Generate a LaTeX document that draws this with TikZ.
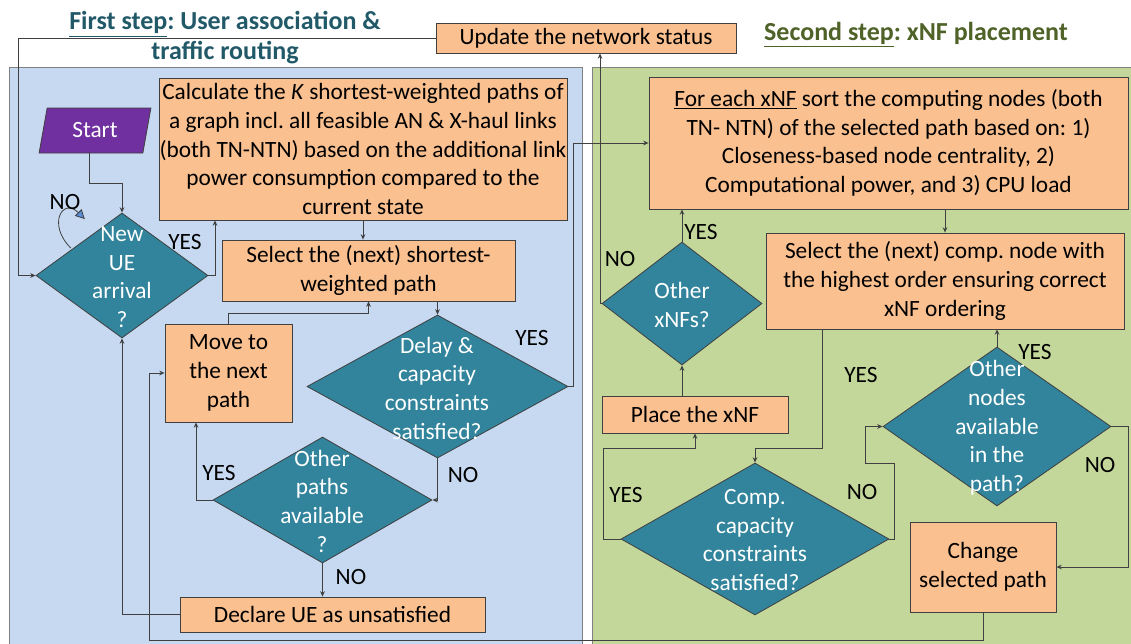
\documentclass[tikz,border=0pt]{standalone}
\usepackage{fontspec}
\setmainfont{Carlito}
\usetikzlibrary{arrows.meta,shapes.geometric,calc}
\definecolor{bluebg}{HTML}{C6D9F1}
\definecolor{greenbg}{HTML}{C4D79B}
\definecolor{orangebox}{HTML}{FAC090}
\definecolor{tealdia}{HTML}{31849B}
\definecolor{purplest}{HTML}{7030A0}
\definecolor{titleone}{HTML}{215968}
\definecolor{titletwo}{HTML}{4F6228}
\definecolor{linegray}{HTML}{404040}
\definecolor{loopblue}{HTML}{5B8CD6}
\newcommand\fs{\fontsize{17.5}{21.5}\selectfont}
\newcommand\tfs{\fontsize{19.5}{22.5}\selectfont\bfseries}
\frenchspacing
\begin{document}
\begin{tikzpicture}[x=0.75pt,y=-0.75pt,
  sz/.style 2 args={minimum width=#1*0.75pt, minimum height=#2*0.75pt},
  ob/.style={draw=linegray, fill=orangebox, line width=0.6pt, inner sep=0pt, align=center, font=\fs},
  dia/.style={diamond, draw=linegray, fill=tealdia, inner sep=0pt, line width=0.6pt},
  dtext/.style={text=white, align=center, font=\fs, inner sep=0pt},
  lbl/.style={font=\fs, text=black, inner sep=0pt},
  conn/.style={draw=linegray, line width=0.7pt, -{Stealth[length=4pt,width=3.5pt]}},
  region/.style={draw=gray, line width=0.7pt}]
\useasboundingbox (0,0) rectangle (1131,643);
% regions
\filldraw[region, fill=bluebg] (9,67) rectangle (582,660);
\filldraw[region, fill=greenbg] (592,67) rectangle (1145,660);
% titles
\node[font=\tfs, text=titleone, align=center] (t1) at (225,38) {\underline{First step}: User association \&\\ traffic routing};
\node[font=\tfs, text=titletwo] (t2) at (916,35) {\underline{Second step}: xNF placement};
% helper coordinates
\coordinate (cL) at (18,0);
\coordinate (cY) at (215,0);
\coordinate (cR) at (573,0);
\coordinate (cM) at (196,0);
\coordinate (cMS) at (0,313);
\coordinate (cB) at (0,640);
\coordinate (cBL) at (149,640);
\coordinate (cS) at (822,448);
\coordinate (cRR) at (1128,0);
\coordinate (c6a) at (894,463);
\coordinate (c6b) at (865,463);
\coordinate (c7) at (603,448);
\coordinate (c8) at (600,0);
% boxes
\node[ob, sz={300}{30}] (upd) at (586,38) {Update the network status};
\node[ob, sz={408}{142}] (calc) at (363,149) {Calculate the \textit{K} shortest-weighted paths of\\ a graph incl. all feasible AN \& X-haul links\\ (both TN-NTN) based on the additional link\\ power consumption compared to the\\ current state};
\node[ob, sz={293}{61}] (sel) at (368.5,270.5) {Select the (next) shortest-\\weighted path};
\node[ob, sz={127}{98}] (move) at (228.5,373) {Move to\\the next\\path};
\node[ob, sz={305}{35}] (decl) at (332.5,614.5) {Declare UE as unsatisfied};
\node[ob, sz={479}{132}] (xnf) at (888.5,143) {\underline{For each xNF} sort the computing nodes (both\\ TN- NTN) of the selected path based on: 1)\\ Closeness-based node centrality, 2)\\ Computational power, and 3) CPU load};
\node[ob, sz={358}{96}] (selc) at (945,281) {Select the (next) comp. node with\\ the highest order ensuring correct\\ xNF ordering};
\node[ob, sz={186}{37}] (place) at (695,414.5) {Place the xNF};
\node[ob, sz={146}{90}] (chg) at (983,567) {Change\\selected path};
% start
\node[trapezium, trapezium left angle=76, trapezium right angle=104, trapezium stretches=true,
  minimum width=84pt, minimum height=33.75pt, inner sep=0pt, draw=linegray, line width=0.6pt,
  fill=purplest, text=white, font=\fs] (start) at (95,130.5) {Start};
% diamonds
\node[dia, sz={172}{125}] (d1) at (122,275.5) {};
\node[dtext] (d1t) at (122,277) {New\\UE\\arrival\\?};
\node[dia, sz={261}{143}] (d2) at (437.5,386.5) {};
\node[dtext] (d2t) at (437,388) {Delay \&\\capacity\\constraints\\satisfied?};
\node[dia, sz={219}{126}] (d3) at (322.5,500) {};
\node[dtext] (d3t) at (322,501) {Other\\paths\\available\\?};
\node[dia, sz={160}{123}] (d4) at (682,303.5) {};
\node[dtext] (d4t) at (682,305) {Other\\xNFs?};
\node[dia, sz={228}{159}] (d5) at (997,426.5) {};
\node[dtext] (d5t) at (997,428) {Other\\nodes\\available\\in the\\path?};
\node[dia, sz={268}{152}] (d6) at (755,539) {};
\node[dtext] (d6t) at (755,540) {Comp.\\capacity\\constraints\\satisfied?};
% connectors
\draw[conn] ([xshift=-4.5pt]start.south) -- ++(0,30) -| (d1.north);
\draw[draw=linegray, line width=0.6pt, -{Triangle[length=7pt,width=7pt,fill=loopblue]}]
  ([shift={(-8,4)}]d1.north west) .. controls +(-24,-24) and +(-22,-22) .. ([shift={(6,-25)}]d1.north west);
\draw[conn] (upd.west) -- (upd.west -| cL) -- (d1.west -| cL) -- (d1.west);
\draw[conn] (d1.east) -- (d1.east -| cY) -- (calc.south -| cY);
\draw[conn] (calc.south) -- (calc.south |- sel.north);
\draw[conn] (d2.north |- sel.south) -- (d2.north);
\draw[conn] (d2.east) -- (d2.east -| cR) -- (xnf.west -| cR) -- (xnf.west);
\draw[conn] (d2.south) -- (d2.south |- d3.east) -- (d3.east);
\draw[conn] (d3.west) -- (d3.west -| cM) -- (move.south -| cM);
\draw[conn] (d3.south) -- (d3.south |- decl.north);
\draw[conn] (decl.west) -| (d1.south);
\draw[conn] (move.north) -- (move.north |- cMS) -| (sel.south);
\draw[conn] (chg.south) -- (chg.south |- cB) -- (cBL) -- (move.west -| cBL) -- (move.west);
\draw[conn] (selc.north |- xnf.south) -- (selc.north);
\draw[conn] (selc.south -| cS) -- (cS) -- (cS -| d6.north) -- (d6.north);
\draw[conn] (d5.north) -- (d5.north |- selc.south);
\draw[conn] (d5.east) -- (d5.east -| cRR) -- (chg.east -| cRR) -- (chg.east);
\draw[conn] (d6.east) -- (d6.east -| c6a) -- (c6a) -- (c6b) -- (c6b |- d5.west) -- (d5.west);
\draw[conn] (d6.west) -- (d6.west -| c7) -- (c7) -- (c7 -| place.south) -- (place.south);
\draw[conn] (d4.south |- place.north) -- (d4.south);
\draw[conn] (d4.north) -- (d4.north |- xnf.south);
\draw[conn] (d4.west) -- (d4.west -| c8) -- (c8 |- upd.south);
% labels
\node[lbl] (l1) at (65,202) {NO};
\node[lbl] (l2) at (185,242) {YES};
\node[lbl] (l3) at (532,338) {YES};
\node[lbl] (l4) at (463,475) {NO};
\node[lbl] (l5) at (219,473) {YES};
\node[lbl] (l6) at (351,577) {NO};
\node[lbl] (l7) at (701,232) {YES};
\node[lbl] (l8) at (620,259) {NO};
\node[lbl] (l9) at (861,375) {YES};
\node[lbl] (l10) at (1035,352) {YES};
\node[lbl] (l11) at (1100,465) {NO};
\node[lbl] (l12) at (862,492) {NO};
\node[lbl] (l13) at (626,495) {YES};
\end{tikzpicture}
\end{document}
